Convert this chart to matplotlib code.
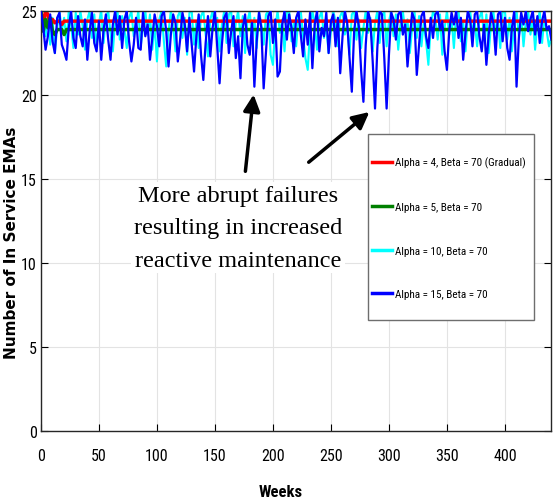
import numpy as np
import matplotlib.pyplot as plt
from matplotlib import font_manager as fm
from matplotlib.patches import Rectangle

# weeks sampled every 2 weeks
weeks = np.arange(0, 442, 2)

red_start = [25, 24.2, 25, 24.8, 24.2, 24.5, 24.3, 24.4, 24.4, 24.2, 24.4, 24.4]
red_vals = red_start + [24.4] * (len(weeks) - len(red_start))

green_start = [25, 23.8, 24.5, 24.0, 24.6, 23.8, 23.6, 23.9, 23.9, 23.9, 23.6, 23.9]
green_vals = green_start + [23.9] * (len(weeks) - len(green_start))

cyan_vals = [
    25, 24.5, 23.5, 24.8, 23.0, 24.6, 22.5, 24.0, 25, 23.8,
    24.6, 23.2, 25, 24.2, 22.8, 24.9, 23.6, 25, 24.1, 22.7,
    24.5, 25, 23.4, 24.8, 22.9, 24.3, 25, 23.1, 24.6, 25,
    23.7, 22.6, 24.4, 25, 23.3, 24.7, 23.9, 22.8, 24.6, 25,
    23.5, 24.2, 25, 22.9, 24.0, 25, 23.6, 24.8, 22.7, 24.3,
    22.0, 24.5, 25, 23.2, 21.7, 23.8, 25, 24.1, 22.6, 24.7,
    25, 23.4, 24.6, 22.4, 24.9, 25, 23.0, 24.4, 22.8, 24.7,
    25, 23.6, 22.3, 24.5, 25, 23.9, 24.6, 22.6, 24.2, 25,
    23.1, 24.8, 25, 22.9, 24.3, 25, 23.5, 24.7, 22.5, 24.4,
    25, 23.3, 24.6, 22.8, 25, 24.2, 23.0, 24.8, 25, 22.4,
    21.8, 24.0, 25, 23.7, 24.5, 22.6, 24.9, 25, 23.2, 24.4,
    22.9, 24.7, 25, 23.5, 22.2, 21.5, 23.9, 25, 24.3, 22.7,
    24.6, 25, 23.4, 24.1, 22.5, 23.8, 25, 24.4, 22.9, 24.7,
    25, 23.6, 24.2, 22.4, 24.8, 25, 23.3, 24.5, 22.8, 24.0,
    25, 23.7, 24.6, 22.6, 24.3, 25, 23.1, 24.7, 25, 22.9,
    24.4, 25, 23.5, 24.8, 22.7, 24.2, 25, 23.8, 24.5, 22.5,
    24.0, 25, 23.4, 24.7, 22.9, 24.3, 23.2, 21.8, 24.1, 25,
    24.6, 23.3, 24.8, 22.4, 24.0, 25, 23.6, 24.5, 22.8, 24.9,
    25, 23.2, 24.4, 22.6, 24.7, 25, 23.8, 24.3, 22.9, 24.6,
    25, 23.4, 24.8, 22.5, 24.2, 25, 23.7, 24.5, 22.8, 24.9,
    25, 23.3, 24.6, 22.6, 24.1, 25, 23.5, 24.8, 22.9, 24.4,
    25, 23.6, 24.7, 22.7, 24.3, 25, 23.1, 24.6, 23.8, 22.9, 23.4,
]

blue_vals = [
    25, 24.0, 22.7, 23.5, 24.8, 23.2, 22.5, 24.6, 24.9, 23.0,
    22.6, 22.1, 24.0, 25, 23.4, 22.8, 24.7, 23.5, 22.9, 24.5,
    22.1, 23.8, 24.9, 23.1, 22.6, 24.4, 22.1, 23.9, 24.8, 23.3,
    22.1, 24.2, 25, 23.6, 24.7, 22.8, 24.5, 25, 23.2, 22.0,
    23.0, 24.6, 22.8, 22.7, 24.9, 23.5, 24.2, 22.1, 23.4, 24.8,
    24.1, 22.9, 24.7, 25, 23.8, 21.7, 23.6, 24.8, 24.3, 22.0,
    23.3, 24.9, 24.2, 22.6, 24.6, 23.0, 21.4, 23.5, 24.8, 22.4,
    20.9, 23.1, 24.7, 22.3, 24.0, 25, 22.8, 20.7, 23.0, 24.6,
    24.9, 22.5, 23.8, 24.7, 22.2, 23.5, 21.0, 24.0, 24.8, 23.0,
    22.4, 24.3, 20.5, 23.2, 24.9, 24.0, 20.4, 22.6, 24.7, 25,
    23.1, 24.5, 21.1, 21.4, 24.2, 25, 23.3, 24.8, 24.0, 22.5,
    24.6, 25, 23.6, 22.3, 24.5, 23.0, 24.9, 21.6, 24.2, 25,
    22.6, 24.0, 23.5, 24.9, 22.5, 24.4, 24.8, 22.9, 24.6, 21.3,
    23.5, 25, 24.3, 22.2, 20.2, 23.8, 25, 24.1, 21.5, 19.6,
    23.0, 25, 24.4, 22.0, 19.2, 22.8, 25, 24.8, 22.2, 19.2,
    22.4, 24.9, 24.5, 23.3, 24.8, 25, 23.6, 24.2, 21.7, 23.4,
    24.9, 24.5, 21.2, 23.0, 24.7, 25, 23.5, 22.8, 24.6, 23.4,
    24.8, 25, 23.9, 24.4, 22.6, 21.5, 23.8, 24.9, 24.2, 25,
    23.4, 24.6, 22.1, 23.7, 25, 24.5, 22.9, 24.8, 25, 23.5,
    22.6, 24.2, 21.8, 23.6, 24.9, 24.3, 22.4, 24.8, 25, 23.2,
    24.6, 22.8, 22.1, 24.0, 25, 20.5, 23.4, 24.9, 24.2, 25,
    23.8, 24.5, 25, 23.6, 24.7, 23.1, 24.4, 25, 23.9, 24.1, 23.3,
]

legend_labels = [
    'Alpha = 4, Beta = 70 (Gradual)',
    'Alpha = 5, Beta = 70',
    'Alpha = 10, Beta = 70',
    'Alpha = 15, Beta = 70',
]
x_ticks = np.arange(0, 401, 50)
y_ticks = np.arange(0, 26, 5)


def pick_narrow(bold=False):
    # look for an installed condensed sans face, else plain Liberation Sans
    prefs = ['Liberation Sans Narrow', 'Roboto Condensed', 'Open Sans Condensed',
             'Noto Sans', 'DejaVu Sans', 'Roboto', 'Open Sans']
    w_ok = (lambda w: w in (600, 700, 'bold')) if bold else (lambda w: w in (400, 'normal', 'regular'))
    for p in prefs:
        for f in fm.fontManager.ttflist:
            if f.name == p and (f.stretch in ('condensed', 'semi-condensed') or 'Narrow' in p
                                or 'Condensed' in p) and w_ok(f.weight) and f.style == 'normal':
                return dict(fname=f.fname)
    return dict(family='Liberation Sans', weight='bold' if bold else 'normal')


nar = pick_narrow()
nar_b = pick_narrow(bold=True)

fig = plt.figure(figsize=(5.53, 5.02), dpi=100)
ax = fig.add_axes([0.074, 0.139, 0.923, 0.837])

ax.plot(weeks, cyan_vals, color='#00ffff', lw=1.5, label=legend_labels[2], zorder=2)
ax.plot(weeks, blue_vals, color='#0000ff', lw=1.6, label=legend_labels[3], zorder=3)
ax.plot(weeks, red_vals, color='#ff0000', lw=2.5, label=legend_labels[0], zorder=2.5)
ax.plot(weeks, green_vals, color='#008000', lw=2.5, label=legend_labels[1], zorder=2.5)

ax.set_xlim(0, 440)
ax.set_ylim(0, 25)
ax.set_xticks(x_ticks)
ax.set_yticks(y_ticks)
ax.grid(True, color='#e3e3e3', lw=0.8)
ax.set_axisbelow(True)
ax.tick_params(direction='in', length=5, top=False, right=True)
ax.tick_params(axis='x', pad=12)
ax.tick_params(axis='y', pad=3)
for lab in ax.get_xticklabels() + ax.get_yticklabels():
    lab.set_fontproperties(fm.FontProperties(size=11.5, **nar))
for sp in ax.spines.values():
    sp.set_color('#262626')
    sp.set_linewidth(1.0)

ax.set_xlabel('Weeks', fontproperties=fm.FontProperties(size=12, **nar_b))
ax.xaxis.set_label_coords(0.47, -0.125)
ax.set_ylabel('Number of In Service EMAs', fontsize=11, fontweight='bold')
ax.yaxis.set_label_coords(-0.042, 0.45)

# legend frame drawn separately so the inner spacing can match
ax.add_patch(Rectangle((0.641, 0.264), 0.326, 0.443, transform=ax.transAxes,
                       facecolor='white', edgecolor='#6e6e6e', lw=1.0, zorder=4))

handles, labels = ax.get_legend_handles_labels()
order = [2, 3, 0, 1]
leg = ax.legend([handles[i] for i in order], [labels[i] for i in order],
                loc='upper left', bbox_to_anchor=(0.649, 0.653), frameon=False,
                labelspacing=3.03, handlelength=1.8, handletextpad=0.27,
                borderpad=0, borderaxespad=0, prop=fm.FontProperties(size=8, **nar))
leg.set_zorder(5)
for line in leg.get_lines():
    line.set_linewidth(2.5)

ax.text(170, 12.1, 'More abrupt failures\nresulting in increased\nreactive maintenance',
        ha='center', va='center', fontsize=17.5, family='Liberation Serif', linespacing=1.7,
        bbox=dict(facecolor='white', edgecolor='none', pad=2))

ax.annotate('', xy=(183.6, 20.2), xytext=(176, 15.3),
            arrowprops=dict(arrowstyle='-|>', lw=2.5, color='k', mutation_scale=25))
ax.annotate('', xy=(285, 19.1), xytext=(229, 15.9),
            arrowprops=dict(arrowstyle='-|>', lw=2.5, color='k', mutation_scale=25))

fig.savefig('out.png', dpi=100)
